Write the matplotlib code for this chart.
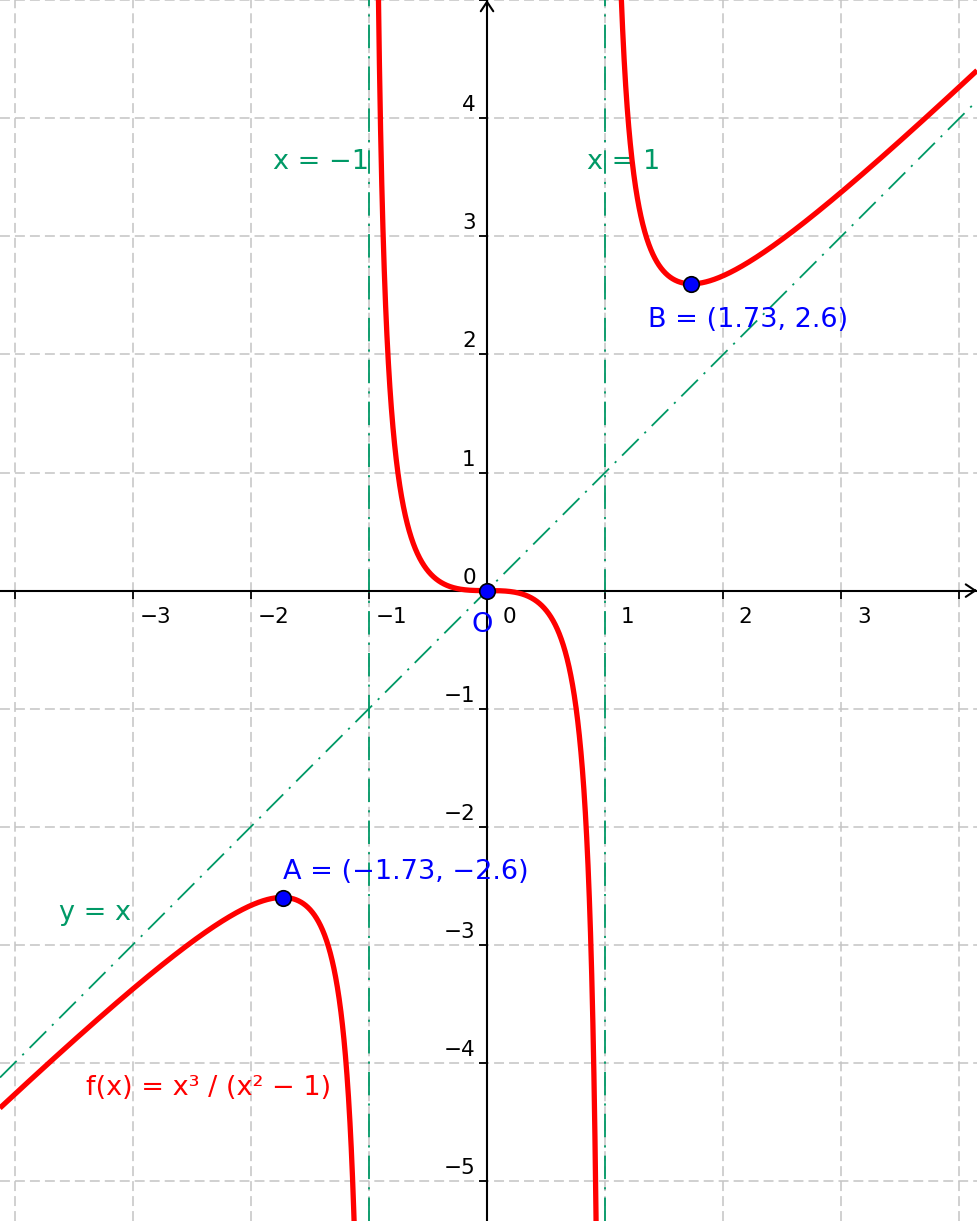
import matplotlib.pyplot as plt
import numpy as np

# the curve is the function named on the chart: f(x) = x^3 / (x^2 - 1)
func_label = "f(x) = x³ / (x² − 1)"
branch_ranges = [(-4.3, -1.105), (-0.935, 0.935), (1.075, 4.3)]

asymptote_x = [-1, 1]
asymptote_labels = ["x = −1", "x = 1"]
oblique_label = "y = x"

point_names = ["A", "O", "B"]
point_x = [-1.73, 0, 1.73]
point_y = [-2.6, 0, 2.6]

grid_x = [-4, -3, -2, -1, 0, 1, 2, 3, 4]
grid_y = [-5, -4, -3, -2, -1, 0, 1, 2, 3, 4, 5]
x_labels = [-3, -2, -1, 0, 1, 2, 3]
y_labels = [-5, -4, -3, -2, -1, 0, 1, 2, 3, 4]

red = "#ff0000"
green = "#009966"
blue = "#0000ff"

xmin, xmax = -4.124, 4.149
ymin, ymax = -5.339, 5.002


def f(x):
    return x ** 3 / (x ** 2 - 1)


def num(v):
    return ("%g" % v).replace("-", "−")


fig = plt.figure(figsize=(9.77, 12.21), dpi=100)
ax = fig.add_axes([0, 0, 1, 1])
ax.set_xlim(xmin, xmax)
ax.set_ylim(ymin, ymax)

# axes through the origin
ax.spines["top"].set_visible(False)
ax.spines["right"].set_visible(False)
ax.spines["left"].set_position(("data", 0))
ax.spines["bottom"].set_position(("data", 0))
for s in ["left", "bottom"]:
    ax.spines[s].set_linewidth(1.5)

ax.set_xticks(grid_x)
ax.set_yticks(grid_y)
ax.tick_params(axis="x", direction="out", length=6, width=1.3, labelbottom=False)
ax.tick_params(axis="y", direction="out", length=6, width=1.3, labelleft=False)
ax.grid(True, color="#c4c4c4", linestyle=(0, (6.5, 3.3)), linewidth=1.1)
ax.set_axisbelow(True)

for v in x_labels:
    ax.text(v + 0.19, -0.22, num(v), ha="center", va="center", fontsize=15.5)
for v in y_labels:
    ax.text(-0.095, v + 0.11, num(v), ha="right", va="center", fontsize=15.5)

# arrow heads only (the axis line is the spine)
arrow = dict(arrowstyle="->,head_length=0.45,head_width=0.3", lw=1.5, color="k",
             shrinkA=0, shrinkB=0, mutation_scale=15)
ax.annotate("", xy=(xmax, 0), xytext=(xmax - 0.02, 0), arrowprops=arrow)
ax.annotate("", xy=(0, ymax), xytext=(0, ymax - 0.02), arrowprops=arrow)

# asymptotes
dashdot = (0, (13, 4.5, 1.2, 4.5))
for v in asymptote_x:
    ax.axvline(v, color=green, lw=1.3, ls=dashdot, zorder=2)
ax.axline((0, 0), slope=1, color=green, lw=1.3, ls=dashdot, zorder=2)

# the function, one branch between each pair of asymptotes
for a, b in branch_ranges:
    xs = np.linspace(a, b, 1500)
    ax.plot(xs, f(xs), color=red, lw=3.8, zorder=4, solid_capstyle="butt")

ax.scatter(point_x, point_y, s=125, c=blue, edgecolors="k", linewidths=1.2, zorder=6)

# labels
lbl = 19.5
ax.text(-1.812, 3.63, asymptote_labels[0], color=green, fontsize=lbl, ha="left", va="center")
ax.text(0.847, 3.63, asymptote_labels[1], color=green, fontsize=lbl, ha="left", va="center")
ax.text(-3.624, -2.73, oblique_label, color=green, fontsize=lbl, ha="left", va="center")
ax.text(-3.395, -4.21, func_label, color=red, fontsize=lbl, ha="left", va="center")

ax.text(point_x[0], point_y[0] + 0.22,
        "%s = (%s, %s)" % (point_names[0], num(point_x[0]), num(point_y[0])),
        color=blue, fontsize=lbl, ha="left", va="center")
ax.text(point_x[1] - 0.04, point_y[1] - 0.29, point_names[1],
        color=blue, fontsize=lbl, ha="center", va="center")
ax.text(point_x[2] - 0.37, point_y[2] - 0.31,
        "%s = (%s, %s)" % (point_names[2], num(point_x[2]), num(point_y[2])),
        color=blue, fontsize=lbl, ha="left", va="center")

fig.savefig("out.png", dpi=100)
